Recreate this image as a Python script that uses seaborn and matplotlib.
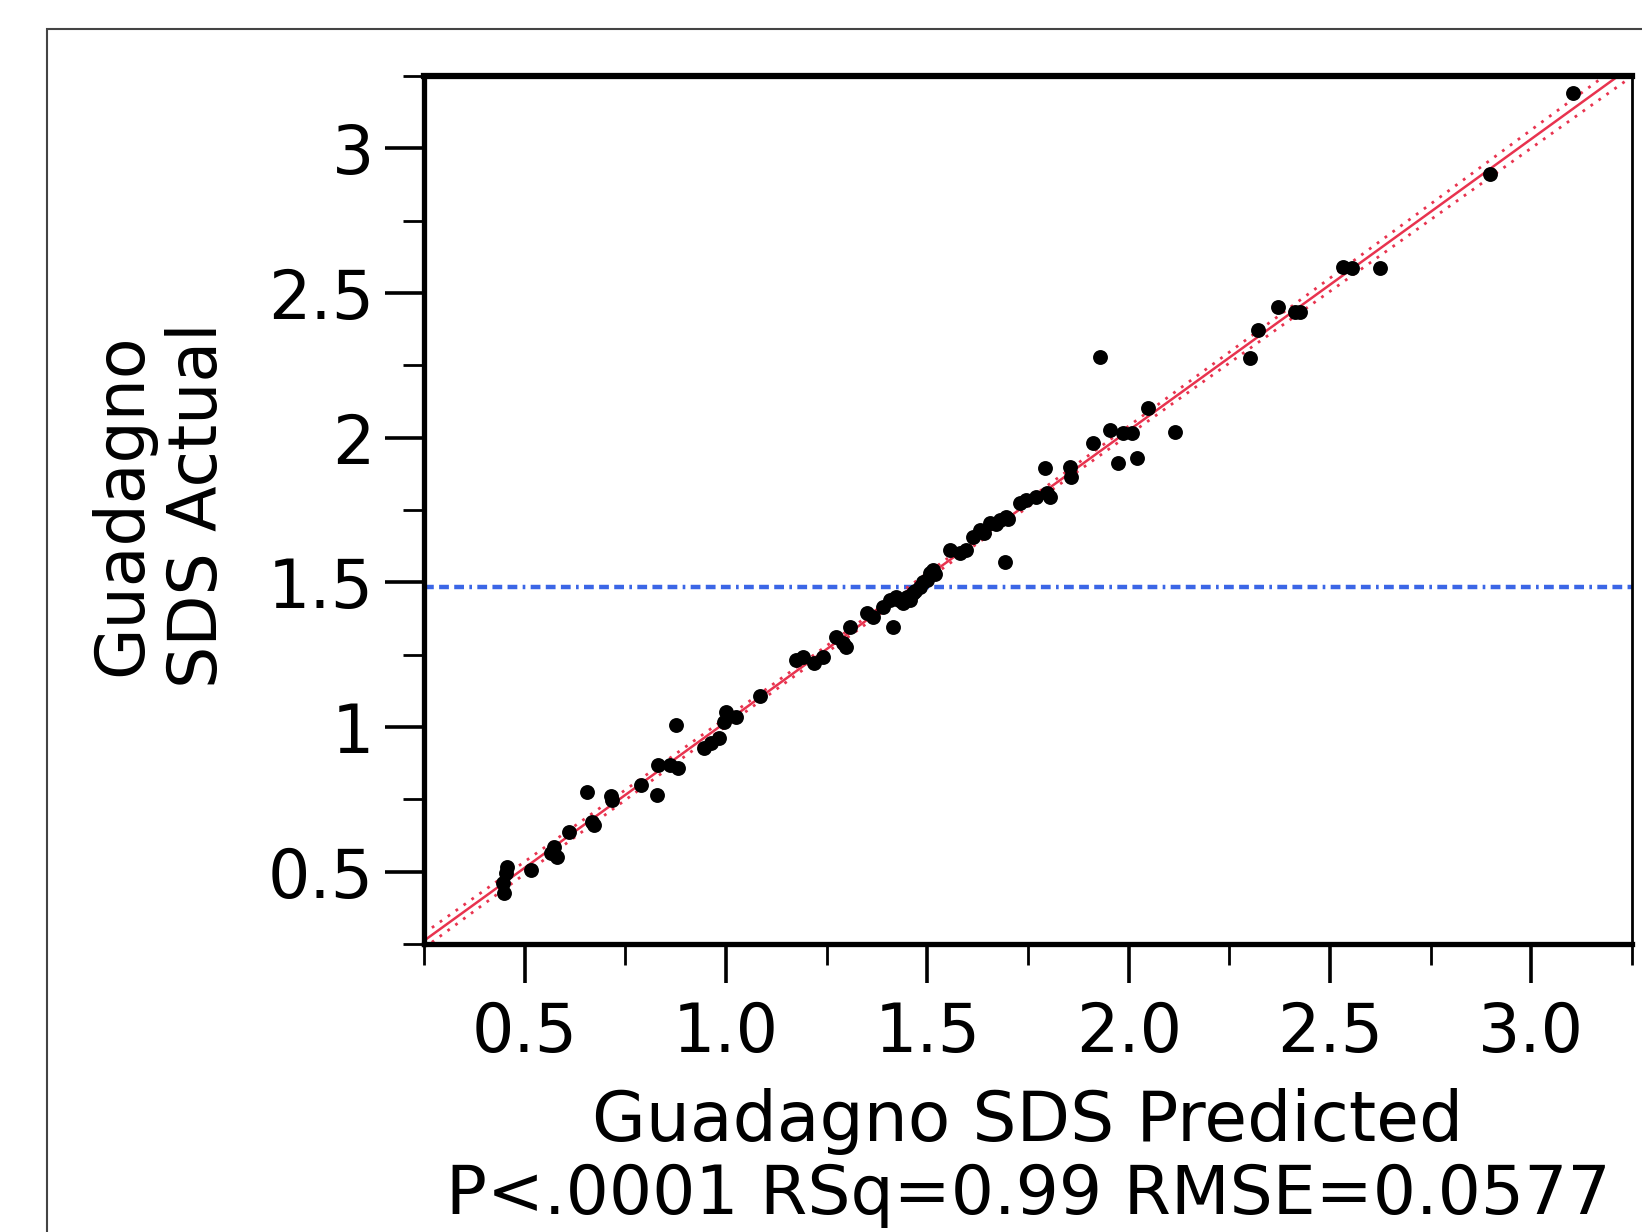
import numpy as np
import pandas as pd
import seaborn as sns
import matplotlib.pyplot as plt
from matplotlib.patches import Rectangle
from matplotlib.ticker import MultipleLocator

pred = [0.449, 0.447, 0.453, 0.457, 0.515, 0.573, 0.581, 0.565, 0.610, 0.668,
        0.672, 0.656, 0.718, 0.714, 0.788, 0.829, 0.830, 0.860, 0.880, 0.875,
        0.945, 0.962, 0.983, 0.999, 1.024, 0.995, 1.085, 1.175, 1.192, 1.218,
        1.241, 1.274, 1.291, 1.299, 1.307, 1.349, 1.365, 1.390, 1.415, 1.407,
        1.423, 1.440, 1.456, 1.465, 1.430, 1.450, 1.470, 1.481, 1.498, 1.506,
        1.514, 1.490, 1.520, 1.556, 1.581, 1.597, 1.614, 1.630, 1.655, 1.680,
        1.696, 1.640, 1.670, 1.700, 1.692, 1.730, 1.746, 1.771, 1.796, 1.804,
        1.792, 1.854, 1.858, 1.912, 1.954, 1.987, 2.008, 1.929, 1.974, 2.020,
        2.049, 2.115, 2.301, 2.322, 2.372, 2.413, 2.426, 2.533, 2.554, 2.624,
        2.897, 3.104]
actual = [0.425, 0.460, 0.494, 0.517, 0.506, 0.586, 0.552, 0.565, 0.638, 0.673,
          0.662, 0.776, 0.748, 0.760, 0.800, 0.765, 0.869, 0.869, 0.857, 1.007,
          0.926, 0.944, 0.961, 1.053, 1.036, 1.018, 1.108, 1.232, 1.243, 1.220,
          1.243, 1.312, 1.289, 1.278, 1.347, 1.393, 1.381, 1.416, 1.347, 1.439,
          1.451, 1.428, 1.439, 1.462, 1.440, 1.450, 1.470, 1.485, 1.508, 1.531,
          1.543, 1.500, 1.530, 1.612, 1.600, 1.612, 1.658, 1.681, 1.704, 1.716,
          1.727, 1.670, 1.700, 1.720, 1.572, 1.773, 1.785, 1.796, 1.808, 1.796,
          1.894, 1.900, 1.865, 1.980, 2.026, 2.015, 2.015, 2.280, 1.911, 1.929,
          2.101, 2.021, 2.274, 2.372, 2.453, 2.435, 2.435, 2.591, 2.585, 2.585,
          2.913, 3.190]
mean_actual = 1.484

x_ticks = [0.5, 1.0, 1.5, 2.0, 2.5, 3.0]
x_tick_labels = ["0.5", "1.0", "1.5", "2.0", "2.5", "3.0"]
y_ticks = [0.5, 1.0, 1.5, 2.0, 2.5, 3.0]
y_tick_labels = ["0.5", "1", "1.5", "2", "2.5", "3"]

df = pd.DataFrame({"pred": pred, "actual": actual})

# ajuste linear e intervalo de confiança da reta
x = df["pred"].to_numpy()
y = df["actual"].to_numpy()
n = len(x)
b1, b0 = np.polyfit(x, y, 1)
resid = y - (b0 + b1 * x)
s = np.sqrt(np.sum(resid ** 2) / (n - 2))
sxx = np.sum((x - x.mean()) ** 2)
xs = np.linspace(0.25, 3.25, 200)
fit = b0 + b1 * xs
half = 1.984 * s * np.sqrt(1 / n + (xs - x.mean()) ** 2 / sxx)

sns.set_style("white")
plt.rcParams['font.family'] = ['DejaVu Sans']
plt.rcParams['text.color'] = 'black'

fig = plt.figure(figsize=(16.42, 12.32), dpi=100)
ax = fig.add_axes([424 / 1642, 1 - 944 / 1232, 1208 / 1642, 868 / 1232])

ax.axhline(mean_actual, color="#3b66e6", lw=3.2,
           dashes=(2.2, 1.2, 2.2, 1.2, 2.2, 1.2, 0.6, 1.2), zorder=1)
ax.plot(xs, fit, color="#e8334f", lw=1.8, zorder=2)
ax.plot(xs, fit + half, color="#e8334f", lw=2.0, ls=(0, (1, 2.5)), zorder=2)
ax.plot(xs, fit - half, color="#e8334f", lw=2.0, ls=(0, (1, 2.5)), zorder=2)
sns.scatterplot(data=df, x="pred", y="actual", ax=ax, color="black",
                s=115, linewidth=0, zorder=3)

ax.set_xlim(0.25, 3.25)
ax.set_ylim(0.25, 3.25)
ax.set_xticks(x_ticks)
ax.set_xticklabels(x_tick_labels)
ax.set_yticks(y_ticks)
ax.set_yticklabels(y_tick_labels)
ax.xaxis.set_minor_locator(MultipleLocator(0.25))
ax.yaxis.set_minor_locator(MultipleLocator(0.25))
ax.tick_params(axis="both", which="major", direction="out", length=28,
               width=2.6, color="black", labelsize=48, labelcolor="black")
ax.tick_params(axis="both", which="minor", direction="out", length=15,
               width=2.0, color="black")
ax.tick_params(axis="x", which="major", pad=12)
ax.tick_params(axis="y", which="major", pad=8)
ax.tick_params(bottom=True, left=True, which="both")
ax.set_xlabel("")
ax.set_ylabel("")

for side, w in [("left", 3.8), ("bottom", 3.8), ("top", 4.5), ("right", 2.0)]:
    ax.spines[side].set_visible(True)
    ax.spines[side].set_color("black")
    ax.spines[side].set_linewidth(w)

fig.text(1028 / 1642, 1 - 1141 / 1232, "Guadagno SDS Predicted",
         ha="center", va="baseline", fontsize=50, color="black")
fig.text(1028 / 1642, 1 - 1214 / 1232, "P<.0001 RSq=0.99 RMSE=0.0577",
         ha="center", va="baseline", fontsize=49, color="black")
fig.text(160 / 1642, 1 - 505 / 1232, "Guadagno\nSDS Actual", rotation=90,
         ha="center", va="center", fontsize=48, linespacing=1.2,
         color="black")

fig.patches.append(Rectangle((47 / 1642, -0.1), 1.2, 1.1 - 29 / 1232,
                             transform=fig.transFigure, fill=False,
                             edgecolor="#444444", lw=1.5))

fig.savefig("out.png", dpi=100)
plt.close(fig)
